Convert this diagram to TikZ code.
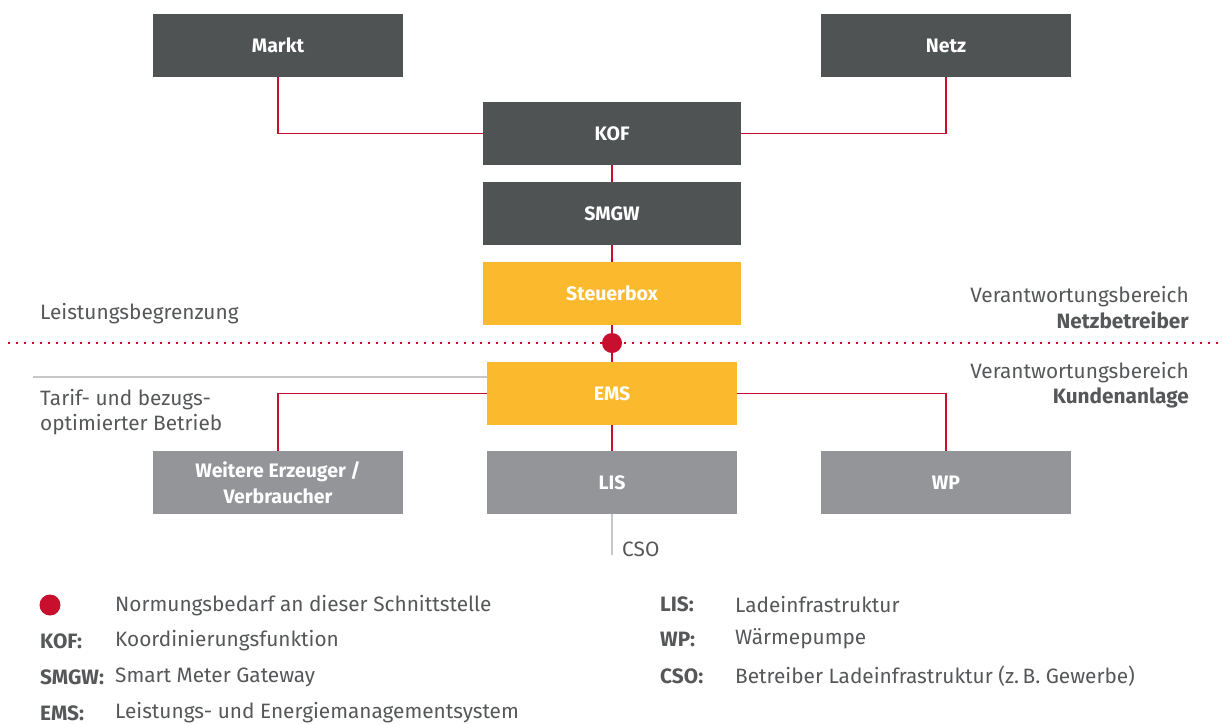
\documentclass[tikz,border=0pt]{standalone}
\usepackage{fontspec}
\setmainfont{Fira Sans}
\definecolor{dgray}{HTML}{505354}
\definecolor{lgray}{HTML}{939598}
\definecolor{yel}{HTML}{FBBA2E}
\definecolor{rd}{HTML}{C8102E}
\definecolor{txt}{HTML}{555759}
\definecolor{lineg}{HTML}{C6C7C8}
\tikzset{
  box/.style={rectangle, minimum width=250pt, minimum height=63pt, inner sep=0pt, text=white, font=\fontsize{19.5}{25.5}\selectfont\bfseries, align=center},
  dbox/.style={box, fill=dgray},
  ybox/.style={box, fill=yel},
  gbox/.style={box, fill=lgray},
  conn/.style={draw=rd, line width=1.2pt},
  glin/.style={draw=lineg, line width=1.2pt},
  lbl/.style={inner sep=0pt, text=txt, font=\fontsize{20.8}{25.5}\selectfont},
  lblb/.style={lbl, font=\fontsize{20.8}{25.5}\selectfont\bfseries},
}
\begin{document}
\begin{tikzpicture}[x=1pt,y=-1pt]
\useasboundingbox (0,0) rectangle (1222,724);
\node[dbox] (markt) at (278,45.5) {Markt};
\node[dbox] (netz) at (946,45.5) {Netz};
\node[dbox, minimum width=258pt] (kof) at (612,133.5) {KOF};
\node[dbox, minimum width=258pt] (smgw) at (612,213.5) {SMGW};
\node[ybox, minimum width=258pt] (steuer) at (612,293.5) {Steuerbox};
\node[ybox] (ems) at (612,393.5) {EMS};
\node[gbox] (weitere) at (278,482.5) {Weitere Erzeuger /\\Verbraucher};
\node[gbox] (lis) at (612,482.5) {LIS};
\node[gbox] (wp) at (946,482.5) {WP};
\coordinate (dot) at (612,343);
\coordinate (csoend) at (612,555);
\coordinate (gl) at (33,377);
\coordinate (dl) at (8,343);
\coordinate (dr) at (1222,343);

\draw[conn] (markt.south) |- (kof.west);
\draw[conn] (netz.south) |- (kof.east);
\draw[conn] (kof) -- (smgw);
\draw[conn] (smgw) -- (steuer);
\draw[conn] (steuer) -- (ems);
\draw[conn] (ems.west) -| (weitere.north);
\draw[conn] (ems.east) -| (wp.north);
\draw[conn] (ems) -- (lis);
\draw[glin] (lis.south) -- (csoend);
\draw[glin] (gl) -- (gl -| ems.west);
\draw[draw=rd, line width=1.6pt, dash pattern=on 1.6pt off 6.4pt] (dl) -- (dr);
% redraw boxes on top of the connectors
\node[dbox] at (markt) {Markt};
\node[dbox] at (netz) {Netz};
\node[dbox, minimum width=258pt] at (kof) {KOF};
\node[dbox, minimum width=258pt] at (smgw) {SMGW};
\node[ybox, minimum width=258pt] at (steuer) {Steuerbox};
\node[ybox] at (ems) {EMS};
\node[gbox] at (weitere) {Weitere Erzeuger /\\Verbraucher};
\node[gbox] at (lis) {LIS};
\node[gbox] at (wp) {WP};
\node[circle, fill=rd, minimum size=20pt, inner sep=0pt] (rdot) at (dot) {};

\node[lbl, anchor=west] (csot) at (622,549) {CSO};
\node[lbl, anchor=west] (leist) at (40,314) {Leistungsbegrenzung};
\node[lbl, anchor=west, align=left] (tarif) at (40,412) {Tarif- und bezugs-\\optimierter Betrieb};
\node[lbl, anchor=east, align=right] (vnb) at (1189,307.5) {Verantwortungsbereich\\\textbf{Netzbetreiber}};
\node[lbl, anchor=east, align=right] (vka) at (1189,385) {Verantwortungsbereich\\\textbf{Kundenanlage}};

% legend
\node[circle, fill=rd, minimum size=21pt, inner sep=0pt] (ldot) at (50,605) {};
\node[lbl, anchor=west] (l1) at (115,606) {Normungsbedarf an dieser Schnittstelle};
\node[lblb, anchor=west] (k2) at (40,641) {KOF:};
\node[lbl, anchor=west] (l2) at (115,641) {Koordinierungsfunktion};
\node[lblb, anchor=west] (k3) at (40,677) {SMGW:};
\node[lbl, anchor=west] (l3) at (115,677) {Smart Meter Gateway};
\node[lblb, anchor=west] (k4) at (40,713) {EMS:};
\node[lbl, anchor=west] (l4) at (115,713) {Leistungs- und Energiemanagementsystem};
\node[lblb, anchor=west] (k5) at (660,604) {LIS:};
\node[lbl, anchor=west] (l5) at (735,604) {Ladeinfrastruktur};
\node[lblb, anchor=west] (k6) at (660,639) {WP:};
\node[lbl, anchor=west] (l6) at (735,639) {Wärmepumpe};
\node[lblb, anchor=west] (k7) at (660,676) {CSO:};
\node[lbl, anchor=west] (l7) at (735,676) {Betreiber Ladeinfrastruktur (z.\,B. Gewerbe)};
\end{tikzpicture}
\end{document}
